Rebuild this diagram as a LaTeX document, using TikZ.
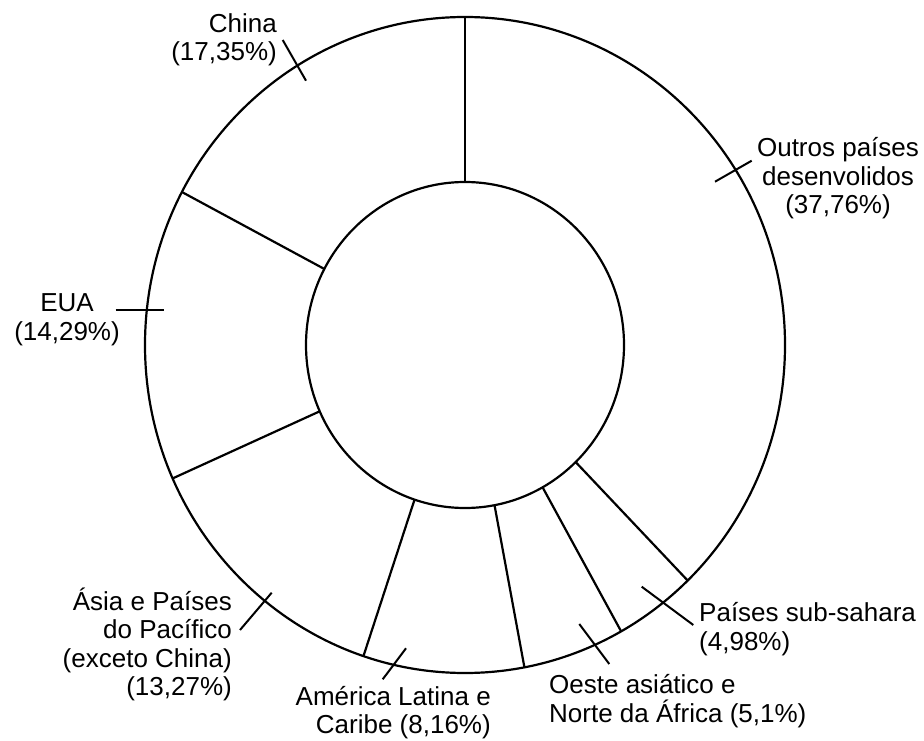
\documentclass[tikz,border=0pt]{standalone}
\usepackage{fontspec}
\setmainfont{Liberation Sans}
\begin{document}
\begin{tikzpicture}[x=1pt,y=1pt,
  ring/.style={line width=2.2pt, black},
  tickline/.style={line width=2pt, black},
  lbl/.style={inner sep=0pt, font={\fontsize{26}{28.4}\selectfont\lineskiplimit=-100pt}}]
\useasboundingbox (0,0) rectangle (924,740);
\fill[white] (0,0) rectangle (924,740);
\coordinate (C) at (465,395);
% rings
\draw[ring] (C) ellipse [x radius=320, y radius=328];
\draw[ring] (C) ellipse [x radius=159, y radius=163];
% segment boundaries
\foreach \a/\n in {90/sa,152.2/sb,204/sc,251.5/sd,280.7/se,299.2/sf,314.1/sg}{
  \path (C) ++(\a:159 and 163) coordinate (\n i);
  \path (C) ++(\a:320 and 328) coordinate (\n o);
  \draw[ring] (\n i) -- (\n o);
}
% labels
\node[lbl, align=right, anchor=north east] (lchina) at (277,732) {\rule{0pt}{24pt}China\\(17,35\%)};
\node[lbl, align=center, anchor=north] (loutros) at (838,607.4) {\rule{0pt}{24pt}Outros países\\desenvolidos\\(37,76\%)};
\node[lbl, align=center, anchor=north] (leua) at (67,452.5) {\rule{0pt}{24pt}EUA\\(14,29\%)};
\node[lbl, align=right, anchor=north east] (lasia) at (232,154) {\rule{0pt}{24pt}Ásia e Países\\do Pacífico\\(exceto China)\\(13,27\%)};
\node[lbl, align=right, anchor=north east] (lamer) at (491,58.7) {\rule{0pt}{24pt}América Latina e\\Caribe (8,16\%)};
\node[lbl, align=left, anchor=north west] (loeste) at (549,70.5) {\rule{0pt}{24pt}Oeste asiático e\\Norte da África (5,1\%)};
\node[lbl, align=left, anchor=north west] (lsub) at (699,142.3) {\rule{0pt}{24pt}Países sub-sahara\\(4,98\%)};
% leader ticks
\coordinate (ta1) at (282.7,700);   \coordinate (ta2) at (306,659.3);
\coordinate (tb1) at (715,558.3);   \coordinate (tb2) at (751.7,579.3);
\coordinate (tc1) at (115.7,430);   \coordinate (tc2) at (164,430);
\coordinate (td1) at (240,110);     \coordinate (td2) at (271.7,147.3);
\coordinate (te1) at (382.7,60.7);  \coordinate (te2) at (406,91.7);
\coordinate (tf1) at (579.3,116);   \coordinate (tf2) at (609.3,76);
\coordinate (tg1) at (641.7,153.3); \coordinate (tg2) at (693.3,115);
\foreach \t in {ta,tb,tc,td,te,tf,tg}{
  \draw[tickline] (\t1) -- (\t2);
}
\end{tikzpicture}
\end{document}
